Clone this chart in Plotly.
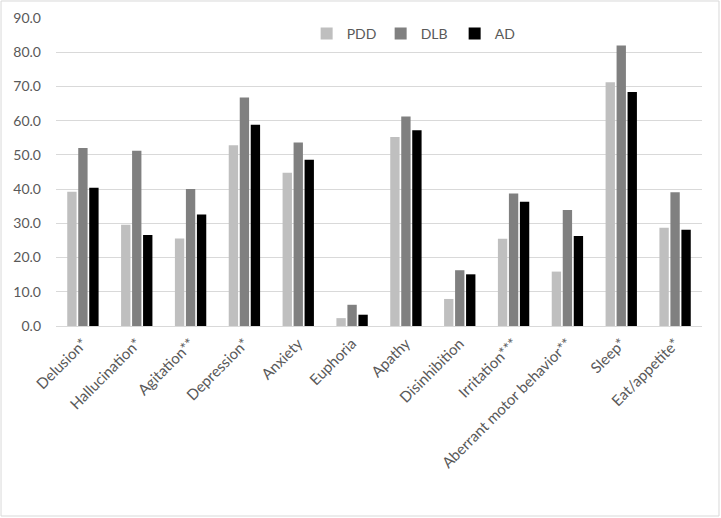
import plotly.graph_objects as go

categories = ["Delusion*", "Hallucination*", "Agitation**", "Depression*", "Anxiety",
              "Euphoria", "Apathy", "Disinhibition", "Irritation***",
              "Aberrant motor behavior**", "Sleep*", "Eat/appetite*"]
pdd = [39.2, 29.6, 25.6, 52.8, 44.8, 2.3, 55.2, 7.9, 25.5, 15.9, 71.2, 28.7]
dlb = [52.0, 51.2, 40.0, 66.8, 53.6, 6.2, 61.2, 16.3, 38.7, 33.9, 82.0, 39.1]
ad = [40.4, 26.6, 32.6, 58.8, 48.6, 3.3, 57.2, 15.1, 36.3, 26.3, 68.4, 28.1]
y_ticks = [0, 10, 20, 30, 40, 50, 60, 70, 80, 90]

FONT = "Lato"
TXT = "#595959"

fig = go.Figure()
for name, vals, col in [("PDD", pdd, "#BFBFBF"), ("DLB", dlb, "#808080"), ("AD", ad, "#000000")]:
    fig.add_trace(go.Bar(x=categories, y=vals, name=name, marker=dict(color=col, line=dict(width=0))))

fig.update_layout(
    width=721, height=518,
    margin=dict(l=56, r=19, t=18, b=192),
    paper_bgcolor="white", plot_bgcolor="white",
    barmode="group", bargap=0.387, bargroupgap=0.15,
    font=dict(family=FONT, size=13, color=TXT),
    legend=dict(orientation="h", x=0.388, y=0.948, xanchor="left", yanchor="middle",
                entrywidth=29, font=dict(family=FONT, size=14, color=TXT),
                bgcolor="rgba(0,0,0,0)", itemclick=False),
    xaxis=dict(tickangle=-45, showgrid=False, showline=False, ticks="",
               ticklabelstandoff=5, automargin=False,
               tickfont=dict(family=FONT, size=15, color=TXT)),
    yaxis=dict(range=[0, 90], tickvals=y_ticks, tickformat=".1f", showgrid=True,
               gridcolor="#D9D9D9", gridwidth=1, zeroline=True, zerolinecolor="#D9D9D9",
               zerolinewidth=1, showline=False, ticks="", ticklen=0,
               ticklabelstandoff=14, automargin=False,
               tickfont=dict(family=FONT, size=14, color=TXT)),
    shapes=[dict(type="rect", xref="paper", yref="paper",
                 x0=-0.0851, x1=1.0263, y0=-0.6169, y1=1.0552,
                 line=dict(color="#D9D9D9", width=1), fillcolor="rgba(0,0,0,0)", layer="below")],
)

fig.write_html("out.html", config={"displayModeBar": False},
               post_script="document.body.style.margin='0';document.body.style.padding='0';")
